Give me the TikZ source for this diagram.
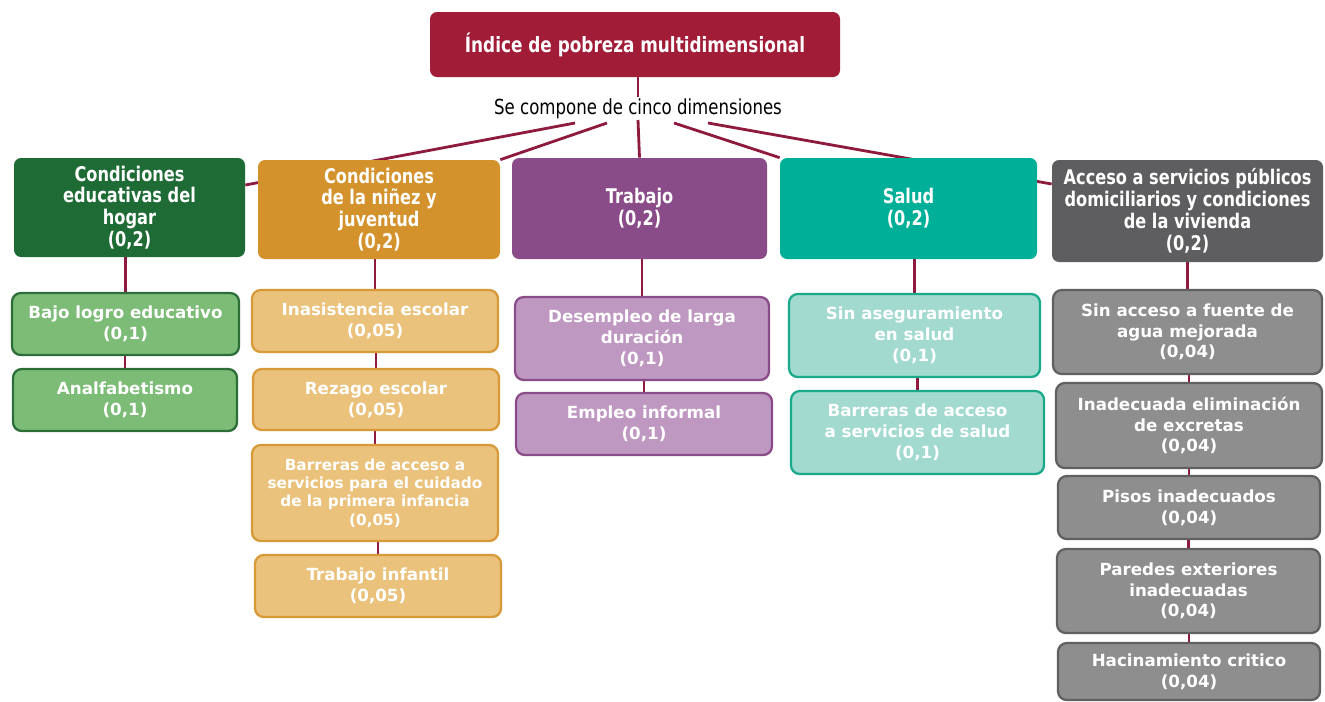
\documentclass[tikz,border=0pt]{standalone}
\usepackage{fontspec}
\setmainfont{DejaVu Sans}
\newfontfamily\narrowfont[FakeStretch=0.8]{DejaVu Sans}
\usetikzlibrary{backgrounds}

\definecolor{titred}{HTML}{A11C36}
\definecolor{linkred}{HTML}{8E1B3D}
\definecolor{dgreen}{HTML}{1F6B35}
\definecolor{lgreen}{HTML}{7CBC76}
\definecolor{bgreen}{HTML}{2C6E38}
\definecolor{dorange}{HTML}{D4922D}
\definecolor{lorange}{HTML}{EAC27C}
\definecolor{borange}{HTML}{D89A38}
\definecolor{dpurple}{HTML}{8A4C88}
\definecolor{lpurple}{HTML}{BF98C2}
\definecolor{dteal}{HTML}{00AF98}
\definecolor{lteal}{HTML}{A2DAD0}
\definecolor{bteal}{HTML}{1AAA8B}
\definecolor{dgray}{HTML}{5E5E60}
\definecolor{lgray}{HTML}{8E8E8E}
\definecolor{bgray}{HTML}{606060}

\tikzset{
  wh/.style 2 args={minimum width=#1cm, minimum height=#2cm},
  dimbox/.style={rounded corners=4pt, text=white, align=center, inner sep=0pt,
    font=\narrowfont\bfseries\fontsize{11.5}{12.4}\selectfont},
  subbox/.style={rounded corners=5pt, line width=1.3pt, text=white, align=center, inner sep=0pt,
    font=\bfseries\fontsize{9.5}{11.8}\selectfont},
  link/.style={draw=linkred, line width=1.5pt},
  toplink/.style={draw=linkred, line width=1.6pt},
}

\begin{document}
\begin{tikzpicture}
  \useasboundingbox (0,0) rectangle (26.5,-14.02);

  % cabecera
  \node[dimbox, fill=titred, wh={8.2}{1.3}, font=\narrowfont\bfseries\fontsize{12}{14}\selectfont] (indice) at (12.70,-0.89) {Índice de pobreza multidimensional};
  \node[font=\narrowfont\fontsize{11.8}{14}\selectfont, inner sep=1pt] (lbl) at (12.76,-2.18) {Se compone de cinco dimensiones};
  \coordinate (c1) at (11.50,-2.46);
  \coordinate (c2) at (12.14,-2.46);
  \coordinate (c3) at (12.76,-2.40);
  \coordinate (c4) at (13.48,-2.46);
  \coordinate (c5) at (14.16,-2.46);

  % dimensiones
  \node[dimbox, fill=dgreen, wh={4.62}{1.98}] (hogar) at (2.59,-4.15) {Condiciones\\educativas del\\hogar\\(0,2)};
  \node[dimbox, fill=dorange, wh={4.84}{1.98}] (ninez) at (7.58,-4.19) {Condiciones\\de la niñez y\\juventud\\(0,2)};
  \node[dimbox, fill=dpurple, wh={5.10}{2.02}] (trabajo) at (12.79,-4.17) {Trabajo\\(0,2)};
  \node[dimbox, fill=dteal, wh={5.14}{2.02}] (salud) at (18.17,-4.17) {Salud\\(0,2)};
  \node[dimbox, fill=dgray, wh={5.42}{2.04}] (acceso) at (23.75,-4.22) {Acceso a servicios públicos\\domiciliarios y condiciones\\de la vivienda\\(0,2)};

  % hogar
  \node[subbox, fill=lgreen, draw=bgreen, wh={4.54}{1.24}] (h1) at (2.51,-6.48) {Bajo logro educativo\\(0,1)};
  \node[subbox, fill=lgreen, draw=bgreen, wh={4.48}{1.24}] (h2) at (2.50,-8.00) {Analfabetismo\\(0,1)};

  % niñez y juventud
  \node[subbox, fill=lorange, draw=borange, wh={4.92}{1.24}] (n1) at (7.50,-6.42) {Inasistencia escolar\\(0,05)};
  \node[subbox, fill=lorange, draw=borange, wh={4.92}{1.22}] (n2) at (7.52,-7.99) {Rezago escolar\\(0,05)};
  \node[subbox, fill=lorange, draw=borange, wh={4.92}{1.92}, font=\bfseries\fontsize{8.7}{10.4}\selectfont] (n3) at (7.50,-9.86) {Barreras de acceso a\\servicios para el cuidado\\de la primera infancia\\(0,05)};
  \node[subbox, fill=lorange, draw=borange, wh={4.92}{1.24}] (n4) at (7.56,-11.72) {Trabajo infantil\\(0,05)};

  % trabajo
  \node[subbox, fill=lpurple, draw=dpurple, wh={5.08}{1.66}] (t1) at (12.84,-6.77) {Desempleo de larga\\duración\\(0,1)};
  \node[subbox, fill=lpurple, draw=dpurple, wh={5.12}{1.24}] (t2) at (12.88,-8.48) {Empleo informal\\(0,1)};

  % salud
  \node[subbox, fill=lteal, draw=bteal, wh={5.02}{1.66}] (s1) at (18.29,-6.71) {Sin aseguramiento\\en salud\\(0,1)};
  \node[subbox, fill=lteal, draw=bteal, wh={5.06}{1.66}] (s2) at (18.35,-8.65) {Barreras de acceso\\a servicios de salud\\(0,1)};

  % servicios y vivienda
  \node[subbox, fill=lgray, draw=bgray, wh={5.38}{1.68}] (v1) at (23.75,-6.64) {Sin acceso a fuente de\\agua mejorada\\(0,04)};
  \node[subbox, fill=lgray, draw=bgray, wh={5.32}{1.70}] (v2) at (23.78,-8.51) {Inadecuada eliminación\\de excretas\\(0,04)};
  \node[subbox, fill=lgray, draw=bgray, wh={5.24}{1.26}] (v3) at (23.78,-10.15) {Pisos inadecuados\\(0,04)};
  \node[subbox, fill=lgray, draw=bgray, wh={5.26}{1.68}] (v4) at (23.77,-11.82) {Paredes exteriores\\inadecuadas\\(0,04)};
  \node[subbox, fill=lgray, draw=bgray, wh={5.24}{1.14}] (v5) at (23.78,-13.43) {Hacinamiento critico\\(0,04)};

  \begin{scope}[on background layer]
    \draw[link] (lbl.north |- indice.south) -- (lbl.north);
    \draw[toplink] (c1) -- ([yshift=0.45cm]hogar.east);
    \draw[toplink] (c2) -- (ninez.north east);
    \draw[toplink] (c3) -- (trabajo.north);
    \draw[toplink] (c4) -- (salud.north west);
    \draw[toplink] (c5) -- ([yshift=0.54cm]acceso.west);
    \draw[link] (h1.north |- hogar.south) -- (h1.north);
    \draw[link] (h2.north |- h1.south) -- (h2.north);
    \draw[link] (n1.north |- ninez.south) -- (n1.north);
    \draw[link] (n2.north |- n1.south) -- (n2.north);
    \draw[link] (n3.north |- n2.south) -- (n3.north);
    \draw[link] (n4.north |- n3.south) -- (n4.north);
    \draw[link] (t1.north |- trabajo.south) -- (t1.north);
    \draw[link] (t2.north |- t1.south) -- (t2.north);
    \draw[link] (s1.north |- salud.south) -- (s1.north);
    \draw[link] (s2.north |- s1.south) -- (s2.north);
    \draw[link] (v1.north |- acceso.south) -- (v1.north);
    \draw[link] (v2.north |- v1.south) -- (v2.north);
    \draw[link] (v3.north |- v2.south) -- (v3.north);
    \draw[link] (v4.north |- v3.south) -- (v4.north);
    \draw[link] (v5.north |- v4.south) -- (v5.north);
  \end{scope}
\end{tikzpicture}
\end{document}
